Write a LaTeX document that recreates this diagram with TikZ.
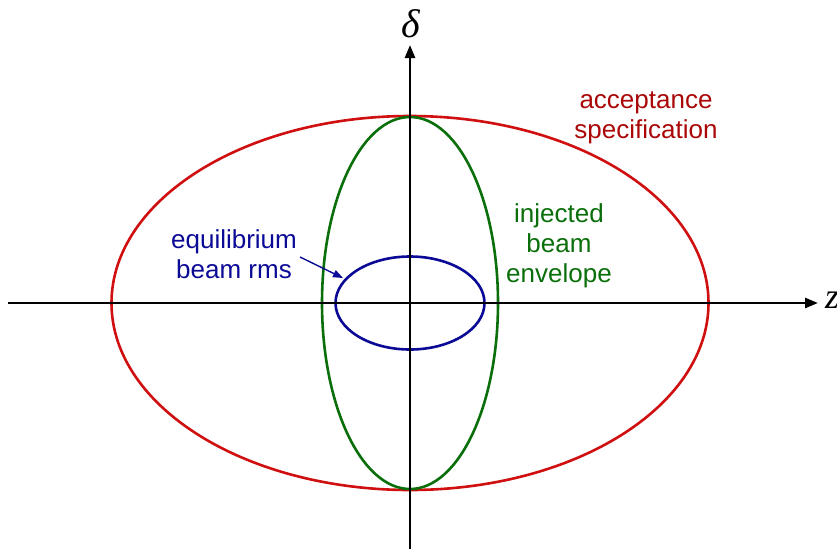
\documentclass[tikz,border=0pt]{standalone}
\usepackage{fontspec}
\setmainfont{Liberation Sans}
\newfontfamily\serifit{Liberation Serif}
\usetikzlibrary{arrows.meta}
\definecolor{accred}{RGB}{208,16,16}
\definecolor{acctext}{RGB}{170,8,8}
\definecolor{injgreen}{RGB}{10,110,10}
\definecolor{eqblue}{RGB}{10,10,150}
\begin{document}
\begin{tikzpicture}[x=1pt,y=-1pt,
  axis/.style={line width=2.5pt,-{Triangle[length=13pt,width=10pt]}},
  ell/.style={line width=2.6pt},
  lbl/.style={align=center,font=\fontsize{26}{30}\selectfont,inner sep=0pt}]
\useasboundingbox (0,0) rectangle (837,549);
\coordinate (O) at (410,303);
\coordinate (xs) at (8,303);
\coordinate (xe) at (818,303);
\coordinate (ys) at (410,549);
\coordinate (ye) at (410,45);
\draw[ell,accred] (O) ellipse [x radius=298.5, y radius=187];
\draw[ell,injgreen] (O) ellipse [x radius=88, y radius=186];
\draw[ell,eqblue] (O) ellipse [x radius=74.5, y radius=46.5];
\draw[axis] (xs) -- (xe);
\draw[axis] (ys) -- (ye);
\node[font=\serifit\itshape\fontsize{40}{44}\selectfont,inner sep=0pt] (delta) at (411,24) {δ};
\node[font=\serifit\itshape\fontsize{36}{40}\selectfont,anchor=west,inner sep=0pt] (zl) at (825,300) {z};
\node[lbl,text=acctext] (acc) at (646,118) {acceptance\\specification};
\node[lbl,text=injgreen] (inj) at (559,246) {injected\\beam\\envelope};
\node[lbl,text=eqblue] (eq) at (234,254) {equilibrium\\beam rms};
\coordinate (atip) at (343,278);
\draw[eqblue,line width=1.4pt,-{Triangle[length=10pt,width=7.5pt]}] (300,257) -- (atip);
\end{tikzpicture}
\end{document}
